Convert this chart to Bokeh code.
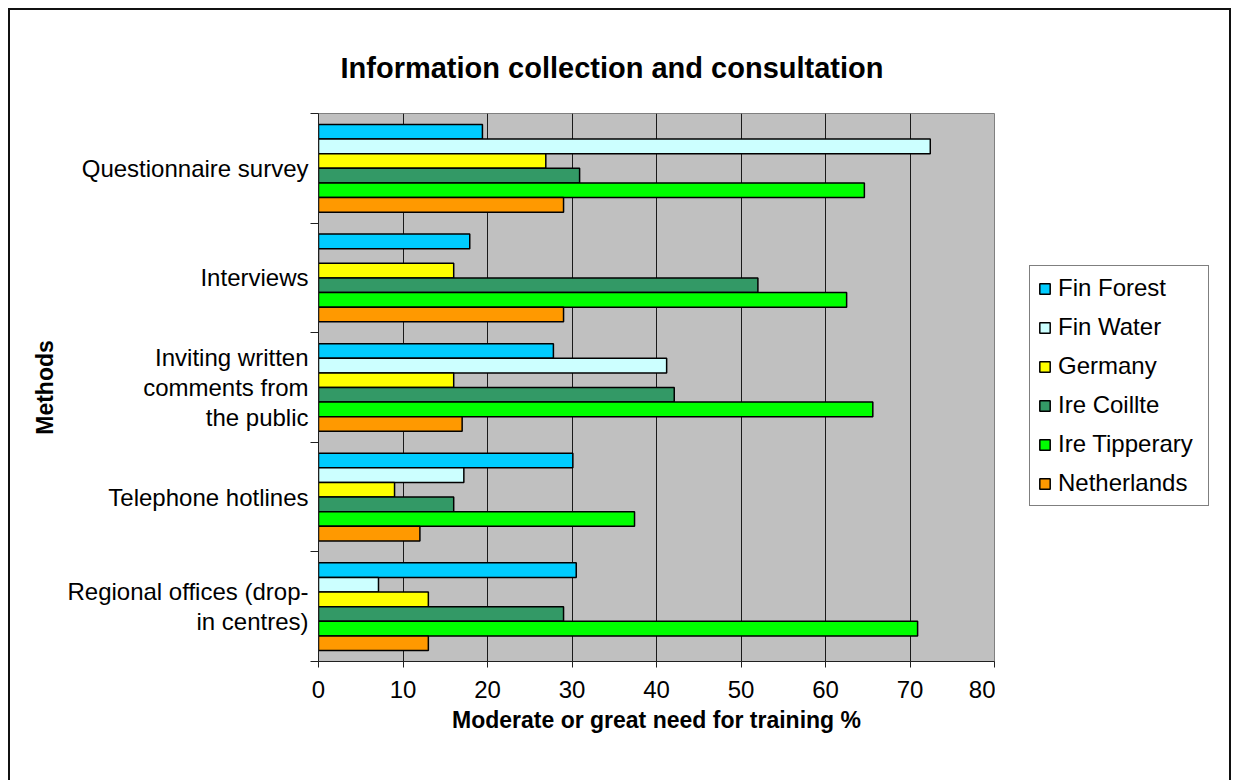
from bokeh.plotting import figure
from bokeh.layouts import row
from bokeh.models import (Range1d, FixedTicker, Legend, LegendItem, ColumnDataSource,
                          LinearAxis, Title)
from bokeh.embed import file_html
from bokeh.resources import INLINE

# ---------------- data ----------------
methods = [
    "Questionnaire survey",
    "Interviews",
    "Inviting written\ncomments from\nthe public",
    "Telephone hotlines",
    "Regional offices (drop-\nin centres)",
]
series = ["Fin Forest", "Fin Water", "Germany", "Ire Coillte", "Ire Tipperary", "Netherlands"]
fin_forest = [19.4, 17.9, 27.8, 30.1, 30.5]
fin_water = [72.4, 0.0, 41.2, 17.2, 7.1]
germany = [26.9, 16.0, 16.0, 9.0, 13.0]
ire_coillte = [30.9, 52.0, 42.1, 16.0, 29.0]
ire_tipperary = [64.6, 62.5, 65.6, 37.4, 70.9]
netherlands = [29.0, 29.0, 17.0, 12.0, 13.0]
x_ticks = [0, 10, 20, 30, 40, 50, 60, 70, 80]

values = [fin_forest, fin_water, germany, ire_coillte, ire_tipperary, netherlands]
colors = ["#00CCFF", "#CCFFFF", "#FFFF00", "#339966", "#00FF00", "#FF9900"]

FONT = "Liberation Sans"
n_cat = len(methods)
n_ser = len(series)
bar_h = 1.0 / (n_ser + 1.5)

# ---------------- main chart ----------------
p = figure(width=985, height=770, output_backend="svg", toolbar_location=None,
           title=None, x_range=Range1d(0, 80), y_range=Range1d(0, n_cat),
           min_border_left=308, min_border_right=1,
           min_border_top=103, min_border_bottom=119,
           background_fill_color="#C0C0C0", border_fill_color="white",
           outline_line_color="#808080", outline_line_width=1)

sources = []
for j, (name, vals, col) in enumerate(zip(series, values, colors)):
    ys = [(n_cat - 1 - i) + 0.5 + (n_ser / 2 - 0.5 - j) * bar_h for i in range(n_cat)]
    src = ColumnDataSource(dict(y=ys, right=vals))
    sources.append(src)
    p.hbar(y="y", left=0, right="right", height=bar_h, source=src,
           fill_color=col, line_color="black", line_width=1.5)

# title first, then an empty spacer (no ticks, no labels, no line) next to the plot area
p.add_layout(Title(text="Information collection and consultation",
                   align="left", offset=22, standoff=60,
                   text_font=FONT, text_font_size="29px", text_font_style="bold",
                   text_color="black"), "above")
spacer = LinearAxis(ticker=FixedTicker(ticks=[]), axis_line_color=None,
                    major_tick_line_color=None, minor_tick_line_color=None,
                    major_tick_in=0, major_tick_out=13, minor_tick_in=0, minor_tick_out=0)
p.add_layout(spacer, "above")

# grid
p.ygrid.visible = False
p.xgrid.ticker = FixedTicker(ticks=x_ticks)
p.xgrid.grid_line_color = "#1a1a1a"
p.xgrid.grid_line_width = 1

# x axis
xa = p.below[0]
xa.ticker = FixedTicker(ticks=x_ticks)
xa.major_tick_in = 0
xa.major_tick_out = 6
xa.minor_tick_line_color = None
xa.axis_line_color = "#202020"
xa.major_tick_line_color = "#202020"
xa.major_label_text_font = FONT
xa.major_label_text_font_size = "24px"
xa.major_label_text_color = "black"
xa.major_label_standoff = 13
xa.axis_label = "Moderate or great need for training %"
xa.axis_label_text_font = FONT
xa.axis_label_text_font_size = "23px"
xa.axis_label_text_font_style = "bold"
xa.axis_label_text_color = "black"
xa.axis_label_standoff = 6

# y axis: labels at category centres, tick marks at category boundaries
centres = [(n_cat - 1 - i) + 0.5 for i in range(n_cat)]
ya = p.left[0]
ya.ticker = FixedTicker(ticks=centres, minor_ticks=list(range(n_cat + 1)))
ya.major_label_overrides = {c: m for c, m in zip(centres, methods)}
ya.major_tick_line_color = None
ya.major_tick_in = 0
ya.major_tick_out = 0
ya.minor_tick_in = 0
ya.minor_tick_out = 8
ya.minor_tick_line_color = "#202020"
ya.axis_line_color = "#202020"
ya.major_label_standoff = 2
ya.major_label_text_font = FONT
ya.major_label_text_font_size = "24px"
ya.major_label_text_line_height = 1.12
ya.major_label_text_color = "black"
ya.axis_label = "Methods"
ya.axis_label_text_font = FONT
ya.axis_label_text_font_size = "23px"
ya.axis_label_text_font_style = "bold"
ya.axis_label_text_color = "black"
ya.axis_label_standoff = 6

# ---------------- legend panel ----------------
q = figure(width=234, height=770, output_backend="svg", toolbar_location=None,
           title=None, x_range=Range1d(0, 1), y_range=Range1d(0, 1),
           min_border=0, outline_line_color=None, border_fill_color="white",
           background_fill_color="white")
q.xaxis.visible = False
q.yaxis.visible = False
q.xgrid.visible = False
q.ygrid.visible = False

items = []
for name, col, src in zip(series, colors, sources):
    proxy = q.hbar(y="y", left=0, right="right", height=bar_h, source=src,
                   fill_color=col, line_color="black", line_width=1.5, visible=False)
    items.append(LegendItem(label=name, renderers=[proxy]))

legend = Legend(items=items, location=(34, 155), orientation="vertical",
                glyph_width=13, glyph_height=13, label_height=27, spacing=11,
                padding=8, label_standoff=7, label_width=142, margin=0,
                border_line_color="black", border_line_width=1,
                background_fill_color="white", background_fill_alpha=1,
                label_text_font=FONT, label_text_font_size="24px",
                label_text_color="black")
q.add_layout(legend, "center")

lay = row(p, q)
lay.margin = (8, 0, 0, 8)
lay.styles = {"border-top": "2px solid #111111",
              "border-left": "2px solid #111111",
              "border-right": "2px solid #111111"}

open("out.html", "w").write(file_html(lay, INLINE))
